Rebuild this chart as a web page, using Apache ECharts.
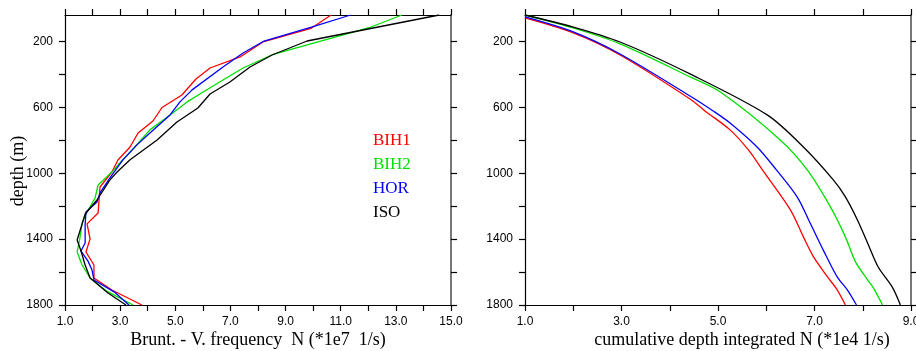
<!DOCTYPE html>
<html>
<head>
<meta charset="utf-8">
<script src="https://cdn.jsdelivr.net/npm/echarts@6/dist/echarts.min.js"></script>
<style>
  html, body { margin: 0; padding: 0; background: #ffffff; }
  #chart { width: 916px; height: 351px; }
</style>
</head>
<body>
<div id="chart"></div>
<script>
// Experiment names and their line colours
const seriesNames = ['BIH1', 'BIH2', 'HOR', 'ISO'];
const seriesColors = ['#ff0000', '#00e000', '#0000ff', '#000000'];

// Brunt-Vaisala frequency profiles: depth (m) and N (*1e7 1/s)
const bih1Depth = [38, 120, 202, 293, 360, 427, 524, 600, 682, 755, 840, 919, 992, 1083, 1241, 1307, 1399, 1478, 1557, 1636, 1709, 1800];
const bih1N     = [10.65, 9.92, 8.18, 7.35, 6.26, 5.75, 5.24, 4.52, 4.19, 3.65, 3.36, 2.92, 2.70, 2.27, 2.20, 1.80, 1.91, 1.76, 2.05, 2.05, 2.70, 3.79];

const bih2Depth = [38, 111, 275, 360, 433, 506, 566, 645, 736, 858, 937, 985, 1071, 1150, 1235, 1302, 1393, 1478, 1557, 1636, 1714, 1800];
const bih2N     = [13.22, 12.10, 8.58, 7.46, 6.73, 6.01, 5.43, 4.81, 4.08, 3.43, 2.99, 2.74, 2.20, 2.09, 1.80, 1.62, 1.54, 1.44, 1.62, 1.91, 2.49, 3.47];

const horDepth  = [38, 112, 196, 269, 354, 493, 566, 645, 755, 827, 918, 1028, 1119, 1174, 1235, 1314, 1423, 1472, 1532, 1587, 1648, 1720, 1800];
const horN      = [11.36, 9.94, 8.22, 7.46, 6.73, 5.61, 5.17, 4.81, 4.08, 3.61, 3.10, 2.63, 2.27, 2.16, 1.76, 1.73, 1.73, 1.58, 1.83, 1.98, 2.05, 2.78, 3.32];

const isoDepth  = [38, 196, 281, 354, 445, 518, 603, 688, 797, 918, 992, 1040, 1162, 1247, 1308, 1405, 1472, 1557, 1636, 1727, 1800];
const isoN      = [14.57, 9.78, 8.51, 7.71, 6.98, 6.26, 5.82, 5.06, 4.34, 3.36, 2.89, 2.63, 2.16, 1.73, 1.62, 1.44, 1.58, 1.73, 1.91, 2.56, 3.21];

// Cumulative depth-integrated N (*1e4 1/s)
const bih1CumDepth = [56, 147, 281, 548, 621, 736, 858, 979, 1222, 1386, 1508, 1629, 1708, 1800];
const bih1Cum      = [1.0, 2.0, 2.97, 4.42, 4.73, 5.25, 5.63, 5.92, 6.50, 6.77, 6.98, 7.27, 7.47, 7.64];

const bih2CumDepth = [38, 117, 214, 414, 506, 797, 979, 1204, 1386, 1538, 1647, 1696, 1800];
const bih2Cum      = [1.0, 2.0, 2.97, 4.42, 5.05, 6.29, 6.85, 7.33, 7.64, 7.85, 8.10, 8.22, 8.41];

const horCumDepth  = [50, 141, 275, 530, 621, 694, 840, 979, 1143, 1302, 1465, 1629, 1708, 1800];
const horCum       = [1.0, 2.0, 2.97, 4.42, 4.90, 5.25, 5.81, 6.21, 6.64, 6.91, 7.18, 7.47, 7.68, 7.87];

const isoCumDepth  = [38, 111, 202, 396, 645, 840, 1040, 1143, 1283, 1423, 1569, 1690, 1800];
const isoCum       = [1.0, 2.0, 2.97, 4.42, 6.02, 6.77, 7.39, 7.64, 7.89, 8.10, 8.32, 8.61, 8.78];

// Axis ticks and labels
const depthTicks  = [200, 400, 600, 800, 1000, 1200, 1400, 1600, 1800];
const depthLabels = [200, 600, 1000, 1400, 1800];
const freqLabels  = [1, 3, 5, 7, 9, 11, 13, 15];
const cumLabels   = [1, 3, 5, 7, 9];

const profiles = [[bih1N, bih1Depth], [bih2N, bih2Depth], [horN, horDepth], [isoN, isoDepth]];
const cumulative = [[bih1Cum, bih1CumDepth], [bih2Cum, bih2CumDepth], [horCum, horCumDepth], [isoCum, isoCumDepth]];

const zip = (xs, ys) => xs.map((x, i) => [x, ys[i]]);

const sansFont = 'Liberation Sans, Arial, Helvetica, sans-serif';
const serifFont = 'Liberation Serif, Times New Roman, serif';

function frameLine(color, width) {
  return { show: true, onZero: false, lineStyle: { color: color, width: width } };
}
function outTicks(values) {
  const t = { show: true, inside: false, length: 6, lineStyle: { color: '#000', width: 1.2 } };
  if (values) t.customValues = values;
  return t;
}

function depthAxis(gridIndex, position, withLabels) {
  const right = position === 'right';
  return {
    type: 'value', gridIndex: gridIndex, position: position,
    inverse: true, min: 38, max: 1800,
    axisLine: frameLine(right ? '#777' : '#000', right ? 2 : 1.2),
    axisTick: outTicks(depthTicks),
    axisLabel: {
      show: withLabels, customValues: depthLabels, margin: 12,
      fontFamily: sansFont, fontSize: 12, color: '#000',
      formatter: v => String(v)
    },
    splitLine: { show: false }
  };
}

function valueAxis(gridIndex, position, max, labels, withLabels) {
  return {
    type: 'value', gridIndex: gridIndex, position: position,
    min: 1, max: max, interval: 1,
    axisLine: frameLine('#000', 1.2),
    axisTick: outTicks(null),
    axisLabel: {
      show: withLabels, customValues: labels, margin: 11,
      fontFamily: sansFont, fontSize: 12, color: '#000',
      formatter: v => Number(v).toFixed(1)
    },
    splitLine: { show: false }
  };
}

const xAxes = [
  valueAxis(0, 'bottom', 15, freqLabels, true),
  valueAxis(0, 'top', 15, freqLabels, false),
  valueAxis(1, 'bottom', 9, cumLabels, true),
  valueAxis(1, 'top', 9, cumLabels, false)
];
Object.assign(xAxes[0], {
  name: 'Brunt. - V. frequency  N (*1e7  1/s)', nameLocation: 'middle', nameGap: 26,
  nameMoveOverlap: false,
  nameTextStyle: { fontFamily: serifFont, fontSize: 18, color: '#000' }
});
Object.assign(xAxes[2], {
  name: 'cumulative depth integrated N (*1e4 1/s)', nameLocation: 'middle', nameGap: 26,
  nameMoveOverlap: false,
  nameTextStyle: { fontFamily: serifFont, fontSize: 18, color: '#000', padding: [0, 0, 0, 48] }
});

const yAxes = [
  depthAxis(0, 'left', true),
  depthAxis(0, 'right', false),
  depthAxis(1, 'left', true),
  depthAxis(1, 'right', false)
];
Object.assign(yAxes[0], {
  name: 'depth (m)', nameLocation: 'middle', nameGap: 38,
  nameMoveOverlap: false,
  nameTextStyle: { fontFamily: serifFont, fontSize: 18, color: '#000', padding: [0, 22, 0, 0] }
});

const series = [];
seriesNames.forEach((name, i) => {
  series.push({
    name: name, type: 'line', xAxisIndex: 0, yAxisIndex: 0,
    data: zip(profiles[i][0], profiles[i][1]),
    symbol: 'none', lineStyle: { color: seriesColors[i], width: 1.3 },
    itemStyle: { color: seriesColors[i] }
  });
  series.push({
    name: name, type: 'line', xAxisIndex: 2, yAxisIndex: 2,
    data: zip(cumulative[i][0], cumulative[i][1]),
    smooth: 0.3, symbol: 'none', lineStyle: { color: seriesColors[i], width: 1.3 },
    itemStyle: { color: seriesColors[i] }
  });
});

const chart = echarts.init(document.getElementById('chart'), null, { renderer: 'canvas' });
chart.setOption({
  animation: false,
  backgroundColor: '#ffffff',
  grid: [
    { left: 65, top: 15, width: 386, height: 290, outerBoundsMode: 'none', containLabel: false },
    { left: 525, top: 15, width: 386, height: 290, outerBoundsMode: 'none', containLabel: false }
  ],
  legend: {
    data: seriesNames.map((n, i) => ({ name: n, textStyle: { color: seriesColors[i] } })),
    orient: 'vertical', left: 362, top: 127,
    itemWidth: 0, itemHeight: 0, itemGap: 7,
    selectedMode: false,
    textStyle: { fontFamily: serifFont, fontSize: 17 }
  },
  xAxis: xAxes,
  yAxis: yAxes,
  series: series
});
</script>
</body>
</html>
